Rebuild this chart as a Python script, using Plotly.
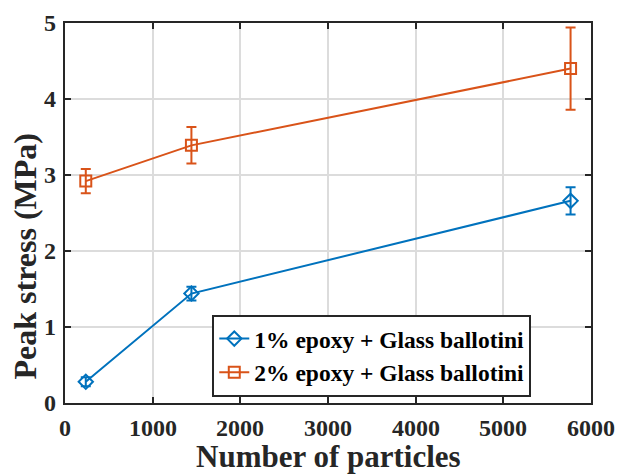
import plotly.graph_objects as go

x_vals = [237, 1442, 5767]
s1_y = [0.28, 1.44, 2.66]
s1_err = [0.06, 0.09, 0.18]
s2_y = [2.92, 3.39, 4.40]
s2_err = [0.16, 0.24, 0.54]
names = ["1% epoxy + Glass ballotini", "2% epoxy + Glass ballotini"]
colors = ["#0072BD", "#D95319"]
x_ticks = [0, 1000, 2000, 3000, 4000, 5000, 6000]
y_ticks = [0, 1, 2, 3, 4, 5]
x_title = "Number of particles"
y_title = "Peak stress (MPa)"

FONT = "Liberation Serif"
INK = "#262626"

fig = go.Figure()
for y, e, n, c, sym in [(s1_y, s1_err, names[0], colors[0], "diamond-open"),
                        (s2_y, s2_err, names[1], colors[1], "square-open")]:
    fig.add_trace(go.Scatter(
        x=x_vals, y=y, name="<b>" + n + "</b>", mode="lines+markers",
        line=dict(color=c, width=2),
        marker=dict(symbol=sym, size=11, color=c, line=dict(width=2, color=c)),
        error_y=dict(type="data", array=e, visible=True, color=c, thickness=2, width=5),
    ))

axis_common = dict(
    showline=True, linecolor=INK, linewidth=2, mirror="ticks",
    ticks="inside", ticklen=6, tickwidth=2, tickcolor=INK,
    showgrid=True, gridcolor="#DCDCDC", gridwidth=1.5, zeroline=False,
    showticklabels=False, tickmode="array",
)

annotations = []
for v in x_ticks:
    annotations.append(dict(text="<b>%d</b>" % v, x=v, xref="x", y=0, yref="paper",
                            xanchor="center", yanchor="top", yshift=-10, showarrow=False,
                            font=dict(family=FONT, size=24, color=INK)))
for v in y_ticks:
    annotations.append(dict(text="<b>%d</b>" % v, x=0, xref="paper", y=v, yref="y",
                            xanchor="right", yanchor="middle", xshift=-7, showarrow=False,
                            font=dict(family=FONT, size=24, color=INK)))
annotations.append(dict(text="<b>%s</b>" % x_title, xref="paper", yref="paper",
                        x=0.5, y=-0.142, xanchor="center", yanchor="middle",
                        showarrow=False, font=dict(family=FONT, size=31, color=INK)))
annotations.append(dict(text="<b>%s</b>" % y_title, xref="paper", yref="paper",
                        x=-0.077, y=0.387, xanchor="center", yanchor="middle",
                        textangle=-90, showarrow=False,
                        font=dict(family=FONT, size=32, color=INK)))

fig.update_layout(
    width=620, height=475,
    margin=dict(l=65, r=29, t=23, b=72),
    paper_bgcolor="white", plot_bgcolor="white",
    font=dict(family=FONT, color=INK),
    xaxis=dict(range=[0, 6000], tickvals=x_ticks, **axis_common),
    yaxis=dict(range=[0, 5], tickvals=y_ticks, **axis_common),
    legend=dict(x=0.28, y=0.232, xanchor="left", yanchor="top",
                bgcolor="white", bordercolor=INK, borderwidth=2,
                font=dict(family=FONT, size=23.5, color="black"),
                tracegroupgap=0, itemwidth=30),
    showlegend=True,
    annotations=annotations,
)

fig.write_html("out.html")
